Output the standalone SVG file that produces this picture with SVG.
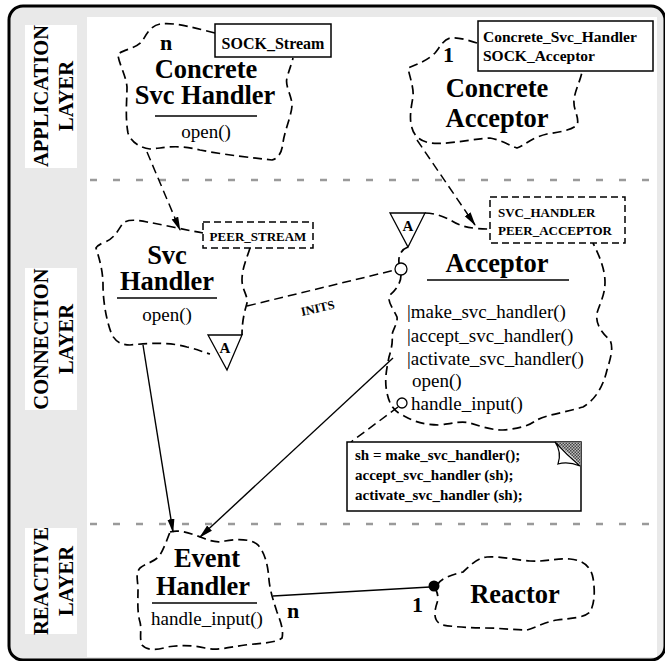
<svg xmlns="http://www.w3.org/2000/svg" width="665" height="661" viewBox="0 0 665 661">
<defs>
<style>
.t{font-family:"Liberation Serif","Times New Roman",serif;fill:#000}
.b{font-weight:bold}
.big{font-size:26.5px;font-weight:bold;text-anchor:middle}
.m{font-size:19px}
.lay{font-size:20.5px;font-weight:bold;text-anchor:middle}
.cloud{fill:none;stroke:#000;stroke-width:1.7;stroke-dasharray:9 5;stroke-linecap:butt}
.sep{stroke:#9a9a9a;stroke-width:2.5;stroke-dasharray:7 16}
.ln{fill:none;stroke:#000;stroke-width:1.4}
.dl{fill:none;stroke:#000;stroke-width:1.5;stroke-dasharray:9 5}
.ul{stroke:#000;stroke-width:1.6}
</style>
<marker id="ah" markerWidth="14" markerHeight="8" refX="13" refY="4" orient="auto" markerUnits="userSpaceOnUse">
<path d="M0,0.5 L14,4 L0,7.5 z" fill="#000"/>
</marker>
<pattern id="hatch" width="3" height="3" patternUnits="userSpaceOnUse">
<rect width="3" height="3" fill="#bdbdbd"/>
<rect width="1.5" height="1.5" fill="#444"/>
<rect x="1.5" y="1.5" width="1.5" height="1.5" fill="#444"/>
</pattern>
</defs>

<!-- frame -->
<rect x="9" y="6" width="656" height="654" rx="14" fill="#e9e9e9" stroke="#000" stroke-width="3"/>
<rect x="87" y="17" width="570" height="640" fill="#fff"/>

<!-- layer labels -->
<g id="layer-application">
<rect x="25" y="25" width="52" height="143" fill="#fff"/>
<text class="t lay" transform="translate(48,96) rotate(-90)">APPLICATION</text>
<text class="t lay" transform="translate(73,96) rotate(-90)">LAYER</text>
</g>
<g id="layer-connection">
<rect x="25" y="268" width="52" height="142" fill="#fff"/>
<text class="t lay" transform="translate(48,339) rotate(-90)">CONNECTION</text>
<text class="t lay" transform="translate(73,339) rotate(-90)">LAYER</text>
</g>
<g id="layer-reactive">
<rect x="25" y="528" width="52" height="106" fill="#fff"/>
<text class="t lay" transform="translate(48,581) rotate(-90)">REACTIVE</text>
<text class="t lay" transform="translate(73,581) rotate(-90)">LAYER</text>
</g>

<!-- separators -->
<g id="separators">
<line class="sep" x1="90" y1="180" x2="655" y2="180"/>
<line class="sep" x1="90" y1="524" x2="655" y2="524"/>
</g>

<!-- connectors -->
<g id="connectors">
<line class="dl" x1="147" y1="152" x2="180" y2="230" marker-end="url(#ah)"/>
<line class="dl" x1="417" y1="140" x2="475" y2="225" marker-end="url(#ah)"/>
<line class="dl" x1="247" y1="306" x2="395" y2="270"/>
<text class="t b" font-size="12.5" transform="translate(302,316) rotate(-13)">INITS</text>
<line class="ln" x1="143" y1="345" x2="173" y2="532" marker-end="url(#ah)"/>
<line class="ln" x1="393" y1="358" x2="200" y2="537" marker-end="url(#ah)"/>
<line class="dl" x1="398" y1="407" x2="351" y2="442"/>
<line class="ln" x1="273" y1="596" x2="430" y2="587"/>
<circle cx="434" cy="586" r="5.5" fill="#000"/>
<text class="t b" font-size="22" x="287" y="618">n</text>
<text class="t b" font-size="22" x="412" y="612">1</text>
</g>

<!-- Concrete Svc Handler -->
<g id="concrete-svc-handler">
<path class="cloud" d="M215,33 C195,28 175,22 160,24 C150,26 146,35 143,40 C138,48 125,49 118,54 C118,62 126,75 127,87 C127,100 125,117 128,133 C131,142 140,148 150,149 C165,148 175,144 200,150 C225,155 255,158 272,160 C280,158 282,150 283,143 C284,132 293,112 292,103 C290,92 285,85 287,78 C289,70 292,63 293,58"/>
<rect x="215" y="24" width="116" height="33" fill="#fff" stroke="#000" stroke-width="1.5"/>
<text class="t b" font-size="16" x="273" y="49" text-anchor="middle">SOCK_Stream</text>
<text class="t b" font-size="22" x="160" y="50">n</text>
<text class="t big" x="206" y="78">Concrete</text>
<text class="t big" x="205" y="104">Svc Handler</text>
<line class="ul" x1="155" y1="116" x2="257" y2="116"/>
<text class="t m" x="206" y="138" text-anchor="middle">open()</text>
</g>

<!-- Concrete Acceptor -->
<g id="concrete-acceptor">
<path class="cloud" d="M477,43 C468,40 458,37 450,38 C443,40 440,47 435,53 C428,60 418,64 408,68 C410,78 414,88 413,97 C411,108 409,118 412,128 C414,136 420,141 430,143 C445,145 465,140 490,138 C502,140 510,146 517,148 C524,146 530,138 547,134 C560,132 572,130 577,125 C580,118 573,110 574,100 C575,90 580,82 582,72"/>
<rect x="478" y="21" width="175" height="50" fill="#fff" stroke="#000" stroke-width="1.5"/>
<text class="t b" font-size="15.5" x="483" y="42">Concrete_Svc_Handler</text>
<text class="t b" font-size="15.5" x="483" y="61">SOCK_Acceptor</text>
<text class="t b" font-size="22" x="443" y="62">1</text>
<text class="t big" x="497" y="97">Concrete</text>
<text class="t big" x="497" y="127">Acceptor</text>
</g>

<!-- Svc Handler -->
<g id="svc-handler">
<path class="cloud" d="M203,233 C185,230 165,225 147,222 C138,220 128,219 123,223 C118,230 115,238 105,242 C100,244 97,246 96,248 C99,258 103,270 103,285 C103,300 106,320 112,335 C116,342 122,345 130,345 C150,343 170,342 187,347 C196,349 203,352 210,354"/>
<path class="cloud" d="M250,248 C247,258 242,268 242,280 C242,290 248,295 247,303 C245,310 242,320 242,335"/>
<rect x="203" y="222" width="110" height="26" fill="#fff" stroke="#000" stroke-width="1.5" stroke-dasharray="7 4"/>
<text class="t b" font-size="13" x="258" y="241" text-anchor="middle">PEER_STREAM</text>
<polygon points="208,335 242,335 227,370" fill="#fff" stroke="#000" stroke-width="1.3"/>
<text class="t b" font-size="15" x="225" y="353" text-anchor="middle">A</text>
<text class="t big" x="167" y="264">Svc</text>
<text class="t big" x="167" y="290">Handler</text>
<line class="ul" x1="117" y1="298" x2="217" y2="298"/>
<text class="t m" x="167" y="321" text-anchor="middle">open()</text>
</g>

<!-- Acceptor -->
<g id="acceptor">
<path class="cloud" d="M425,213 C435,213 445,217 452,221 C460,226 470,229 490,229"/>
<path class="cloud" d="M408,247 C402,249 398,255 399,263"/>
<path class="cloud" d="M401,275 C401,283 396,290 390,295 C386,300 394,310 397,317 C398,324 392,330 392,336 C393,343 391,350 389,357 C387,367 384,380 387,393 C389,402 392,410 402,415 C412,420 420,425 440,425 C453,423 462,421 470,423 C480,426 490,430 503,430 C515,429 527,427 535,421 C545,415 563,413 583,407 C595,400 603,387 607,370 C610,360 614,348 610,340 C603,334 595,325 597,313 C600,303 605,295 605,282 C605,270 600,257 593,243"/>
<circle cx="401" cy="269" r="6" fill="#fff" stroke="#000" stroke-width="1.3"/>
<rect x="490" y="197" width="135" height="46" fill="#fff" stroke="#000" stroke-width="1.5" stroke-dasharray="7 4"/>
<text class="t b" font-size="13" x="498" y="217">SVC_HANDLER</text>
<text class="t b" font-size="13" x="498" y="235">PEER_ACCEPTOR</text>
<polygon points="390,213 425,213 408,247" fill="#fff" stroke="#000" stroke-width="1.3"/>
<text class="t b" font-size="15" x="408" y="231" text-anchor="middle">A</text>
<text class="t big" x="497" y="272">Acceptor</text>
<line class="ul" x1="427" y1="280" x2="569" y2="280"/>
<text class="t m" x="407" y="318">|make_svc_handler()</text>
<text class="t m" x="407" y="342">|accept_svc_handler()</text>
<text class="t m" x="407" y="365">|activate_svc_handler()</text>
<text class="t m" x="412" y="387">open()</text>
<circle cx="402" cy="403" r="5" fill="#fff" stroke="#000" stroke-width="1.3"/>
<text class="t m" x="411" y="410">handle_input()</text>
</g>

<!-- Note -->
<g id="note">
<rect x="347" y="442" width="234" height="69" fill="#fff" stroke="#000" stroke-width="1.5"/>
<path d="M555,442 L581,442 L581,466 Q568,452 555,442 Z" fill="url(#hatch)"/>
<path d="M555,442 Q562,452 558,464 Q568,461 580,466 Q567,455 555,442 Z" fill="#fff" stroke="#000" stroke-width="1.2"/>
<text class="t b" font-size="15" x="355" y="460">sh = make_svc_handler();</text>
<text class="t b" font-size="15" x="355" y="480">accept_svc_handler (sh);</text>
<text class="t b" font-size="15" x="355" y="500">activate_svc_handler (sh);</text>
</g>

<!-- Event Handler -->
<g id="event-handler">
<path class="cloud" d="M170,532 C180,529 192,534 203,538 C210,541 217,543 225,541 C235,539 250,538 258,545 C265,553 268,565 269,580 C270,590 273,600 277,612 C280,620 284,630 282,638 C276,643 262,643 245,645 C230,647 218,651 205,648 C192,645 180,645 167,647 C158,650 147,651 142,645 C139,638 142,630 140,622 C137,612 138,600 138,590 C138,580 135,574 140,568 C146,563 155,562 160,555 C164,548 167,540 170,532"/>
<text class="t big" x="207" y="567">Event</text>
<text class="t big" x="203" y="595">Handler</text>
<line class="ul" x1="152" y1="603" x2="257" y2="603"/>
<text class="t m" x="207" y="625" text-anchor="middle">handle_input()</text>
</g>

<!-- Reactor -->
<g id="reactor">
<path class="cloud" d="M437,585 C440,579 450,575 463,572 C470,566 476,558 487,557 C500,556 515,560 530,561 C545,562 555,558 570,559 C582,560 591,566 593,578 C595,590 595,603 590,612 C584,618 572,618 557,620 C545,622 537,627 527,630 C515,630 500,628 485,628 C470,628 455,627 443,625 C433,622 434,612 437,603 C439,597 437,592 436,590"/>
<text class="t big" x="515" y="603">Reactor</text>
</g>
</svg>
